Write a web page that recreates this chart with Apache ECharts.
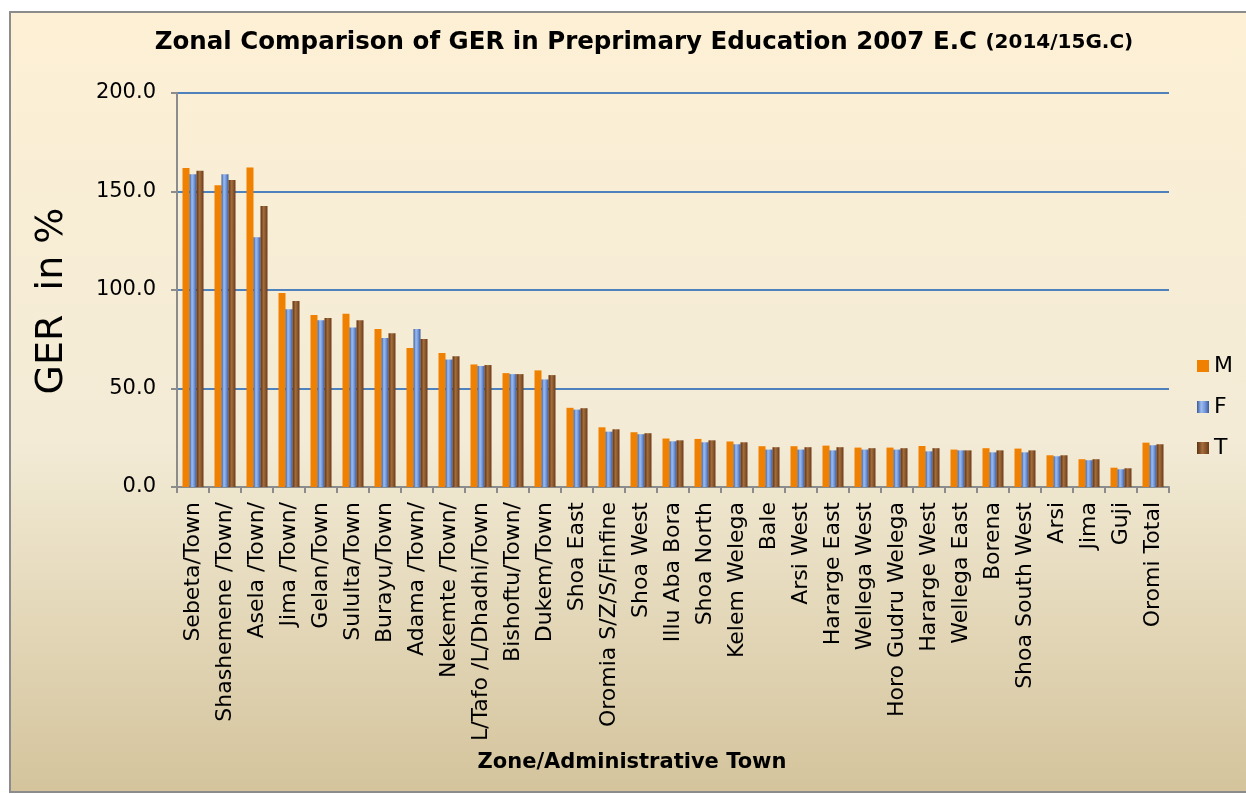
<!DOCTYPE html>
<html>
<head>
<meta charset="utf-8">
<title>Zonal Comparison of GER</title>
<script src="https://cdn.jsdelivr.net/npm/echarts@6/dist/echarts.min.js"></script>
<style>
    html, body { margin: 0; padding: 0; background: #ffffff; }
    #chart { width: 1246px; height: 794px; }
</style>
</head>
<body>
<div id="chart"></div>
<script>
// Zones / villes administratives
const zones = [
    "Sebeta/Town", "Shashemene /Town/", "Asela /Town/", "Jima /Town/", "Gelan/Town",
    "Sululta/Town", "Burayu/Town", "Adama /Town/", "Nekemte /Town/", "L/Tafo /L/Dhadhi/Town",
    "Bishoftu/Town/", "Dukem/Town", "Shoa East", "Oromia S/Z/S/Finfine", "Shoa West",
    "Illu Aba Bora", "Shoa North", "Kelem Welega", "Bale", "Arsi West",
    "Hararge East", "Wellega West", "Horo Gudru Welega", "Hararge West", "Wellega East",
    "Borena", "Shoa South West", "Arsi", "Jima", "Guji", "Oromi Total"
];

// GER par sexe
const male = [
    161.9, 153.2, 162.2, 98.5, 87.3, 88.0, 80.2, 70.5, 68.0, 62.2,
    57.8, 59.2, 40.2, 30.3, 27.8, 24.6, 24.4, 23.1, 20.7, 20.7,
    21.0, 20.0, 20.0, 20.8, 19.0, 19.7, 19.5, 16.1, 14.1, 9.8, 22.5
];
const female = [
    158.8, 158.8, 126.8, 90.2, 84.7, 81.0, 75.6, 80.2, 64.7, 61.4,
    57.3, 54.6, 39.3, 28.1, 26.8, 23.2, 22.7, 21.7, 19.0, 19.0,
    18.6, 19.0, 19.0, 18.1, 18.6, 17.6, 17.6, 15.6, 13.6, 9.0, 21.2
];
const total = [
    160.5, 155.9, 142.7, 94.4, 85.8, 84.7, 78.1, 75.1, 66.4, 61.9,
    57.3, 56.8, 40.0, 29.3, 27.3, 23.7, 23.7, 22.7, 20.2, 20.2,
    20.2, 19.7, 19.7, 19.7, 18.6, 18.6, 18.6, 16.1, 14.1, 9.5, 21.7
];

const FONT = "DejaVu Sans";

// Dégradés pour imiter les textures des barres
const blueFill = new echarts.graphic.LinearGradient(0, 0, 1, 0, [
    { offset: 0, color: "#3a5a98" },
    { offset: 0.35, color: "#9dbcf0" },
    { offset: 0.65, color: "#7699dc" },
    { offset: 1, color: "#3c5c98" }
]);
const brownFill = new echarts.graphic.LinearGradient(0, 0, 1, 0, [
    { offset: 0, color: "#5e3214" },
    { offset: 0.45, color: "#a56d3c" },
    { offset: 1, color: "#6a3a18" }
]);

const chart = echarts.init(document.getElementById("chart"));

chart.setOption({
    animation: false,
    graphic: [ {
        type: "rect",
        z: -100,
        silent: true,
        shape: { x: 10, y: 12, width: 1320, height: 780 },
        style: {
            fill: new echarts.graphic.LinearGradient(0, 0, 0, 1, [
                { offset: 0, color: "#fdf0d5" },
                { offset: 0.55, color: "#f3ebd6" },
                { offset: 1, color: "#d4c49c" }
            ]),
            stroke: "#8c8c8c",
            lineWidth: 2
        }
    } ],
    title: {
        text: "{a|Zonal Comparison of GER in Preprimary Education 2007 E.C }{b|(2014/15G.C)}",
        left: 639,
        textAlign: "center",
        top: 25,
        textStyle: {
            rich: {
                a: { fontFamily: FONT, fontWeight: "bold", fontSize: 24.5, color: "#000" },
                b: { fontFamily: FONT, fontWeight: "bold", fontSize: 20, color: "#000" }
            }
        }
    },
    legend: {
        orient: "vertical",
        left: 1192,
        top: 350,
        itemWidth: 12,
        itemHeight: 12,
        itemGap: 19,
        icon: "rect",
        textStyle: { fontFamily: FONT, fontSize: 22, color: "#000" },
        data: [ "M", "F", "T" ]
    },
    grid: { left: 177, right: 77, top: 93, bottom: 307 },
    xAxis: {
        type: "category",
        data: zones,
        name: "Zone/Administrative Town",
        nameLocation: "middle",
        nameGap: 265,
        nameTextStyle: {
            fontFamily: FONT,
            fontWeight: "bold",
            fontSize: 21,
            color: "#000",
            padding: [ 0, 82, 0, 0 ]
        },
        axisLine: { lineStyle: { color: "#8c8c8c", width: 2 } },
        axisTick: { show: true, length: 6, lineStyle: { color: "#8c8c8c", width: 2 } },
        axisLabel: {
            rotate: 90,
            interval: 0,
            margin: 15,
            fontFamily: FONT,
            fontSize: 22,
            color: "#000"
        }
    },
    yAxis: {
        type: "value",
        min: 0,
        max: 200,
        interval: 50,
        name: "GER  in %",
        nameLocation: "middle",
        nameGap: 106,
        nameTextStyle: {
            fontFamily: FONT,
            fontSize: 38,
            color: "#000",
            padding: [ 0, 22, 0, 0 ]
        },
        axisLine: { show: true, lineStyle: { color: "#8c8c8c", width: 2 } },
        axisTick: { show: true, length: 6, lineStyle: { color: "#8c8c8c", width: 2 } },
        axisLabel: {
            margin: 21,
            fontFamily: FONT,
            fontSize: 21,
            color: "#000",
            formatter: (v) => v.toFixed(1)
        },
        splitLine: { lineStyle: { color: "#4f81bd", width: 2 } }
    },
    series: [
        {
            name: "M",
            type: "bar",
            data: male,
            barWidth: 7,
            barGap: "0%",
            itemStyle: { color: "#f08000" }
        },
        {
            name: "F",
            type: "bar",
            data: female,
            barWidth: 7,
            barGap: "0%",
            itemStyle: { color: blueFill }
        },
        {
            name: "T",
            type: "bar",
            data: total,
            barWidth: 7,
            barGap: "0%",
            itemStyle: { color: brownFill }
        }
    ]
});
</script>
</body>
</html>
